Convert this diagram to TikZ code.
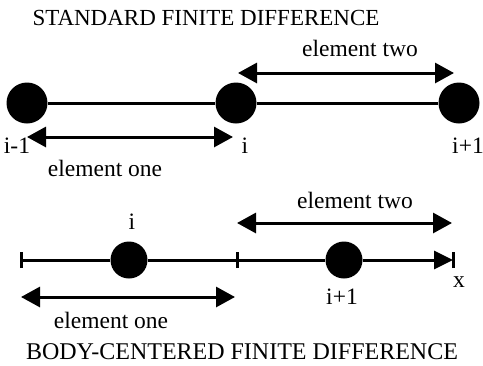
\documentclass[tikz,border=0pt]{standalone}
\usepackage{fontspec}
\setmainfont{Liberation Serif}
\usetikzlibrary{arrows.meta}
\begin{document}
\begin{tikzpicture}[x=1pt,y=-1pt,
 dot/.style={circle,fill=black,inner sep=0pt,minimum size=41pt},
 sdot/.style={circle,fill=black,inner sep=0pt,minimum size=37pt},
 lbl/.style={font=\fontsize{23.5}{25}\selectfont,inner sep=0pt},
 ttl/.style={font=\fontsize{24}{26}\selectfont,inner sep=0pt},
 axis/.style={line width=3pt},
 tick/.style={line width=3pt},
 dim/.style={line width=3pt,{Triangle[length=19pt,width=20pt]}-{Triangle[length=19pt,width=20pt]}},
]
\useasboundingbox (0,0) rectangle (483,365);
% ---------- standard finite difference ----------
\node[ttl,font=\fontsize{23}{25}\selectfont] (t1) at (206,18) {STANDARD FINITE DIFFERENCE};
\node[dot] (a) at (27,103) {};
\node[dot] (b) at (236,103) {};
\node[dot] (c) at (459,103) {};
\draw[axis] (a) -- (b);
\draw[axis] (b) -- (c);
\coordinate (e2l) at (238,73);
\coordinate (e2r) at (454,73);
\draw[dim] (e2l) -- (e2r);
\node[lbl] (e2) at (360,48) {element two};
\coordinate (e1l) at (27,137);
\coordinate (e1r) at (233,137);
\draw[dim] (e1l) -- (e1r);
\node[lbl] (la) at (17,146) {i-1};
\node[lbl] (lb) at (245,146) {i};
\node[lbl] (lc) at (468,146) {i+1};
\node[lbl] (e1) at (105,168) {element one};
% ---------- body-centered finite difference ----------
\coordinate (p0) at (21,260);
\coordinate (p1) at (237,260);
\coordinate (p2) at (453,260);
\node[sdot] (d1) at (129,260) {};
\node[sdot] (d2) at (344,260) {};
\draw[axis] (p0) -- (d1);
\draw[axis] (d1) -- (d2);
\draw[axis,-{Triangle[length=19pt,width=18pt]}] (d2) -- (p2);
\draw[tick] ([yshift=-8pt]p0) -- ([yshift=8pt]p0);
\draw[tick] ([yshift=-8pt]p1) -- ([yshift=8pt]p1);
\draw[tick] ([yshift=-8pt]p2) -- ([yshift=8pt]p2);
\node[lbl] (li) at (132,222) {i};
\node[lbl] (lj) at (342,297) {i+1};
\node[lbl] (lx) at (459,282) {x};
\coordinate (f2l) at (237,223);
\coordinate (f2r) at (452,223);
\draw[dim] (f2l) -- (f2r);
\node[lbl] (f2) at (355,200) {element two};
\coordinate (f1l) at (21,297);
\coordinate (f1r) at (235,297);
\draw[dim] (f1l) -- (f1r);
\node[lbl] (f1) at (111,320) {element one};
\node[ttl] (t2) at (242,352) {BODY-CENTERED FINITE DIFFERENCE};
\end{tikzpicture}
\end{document}
